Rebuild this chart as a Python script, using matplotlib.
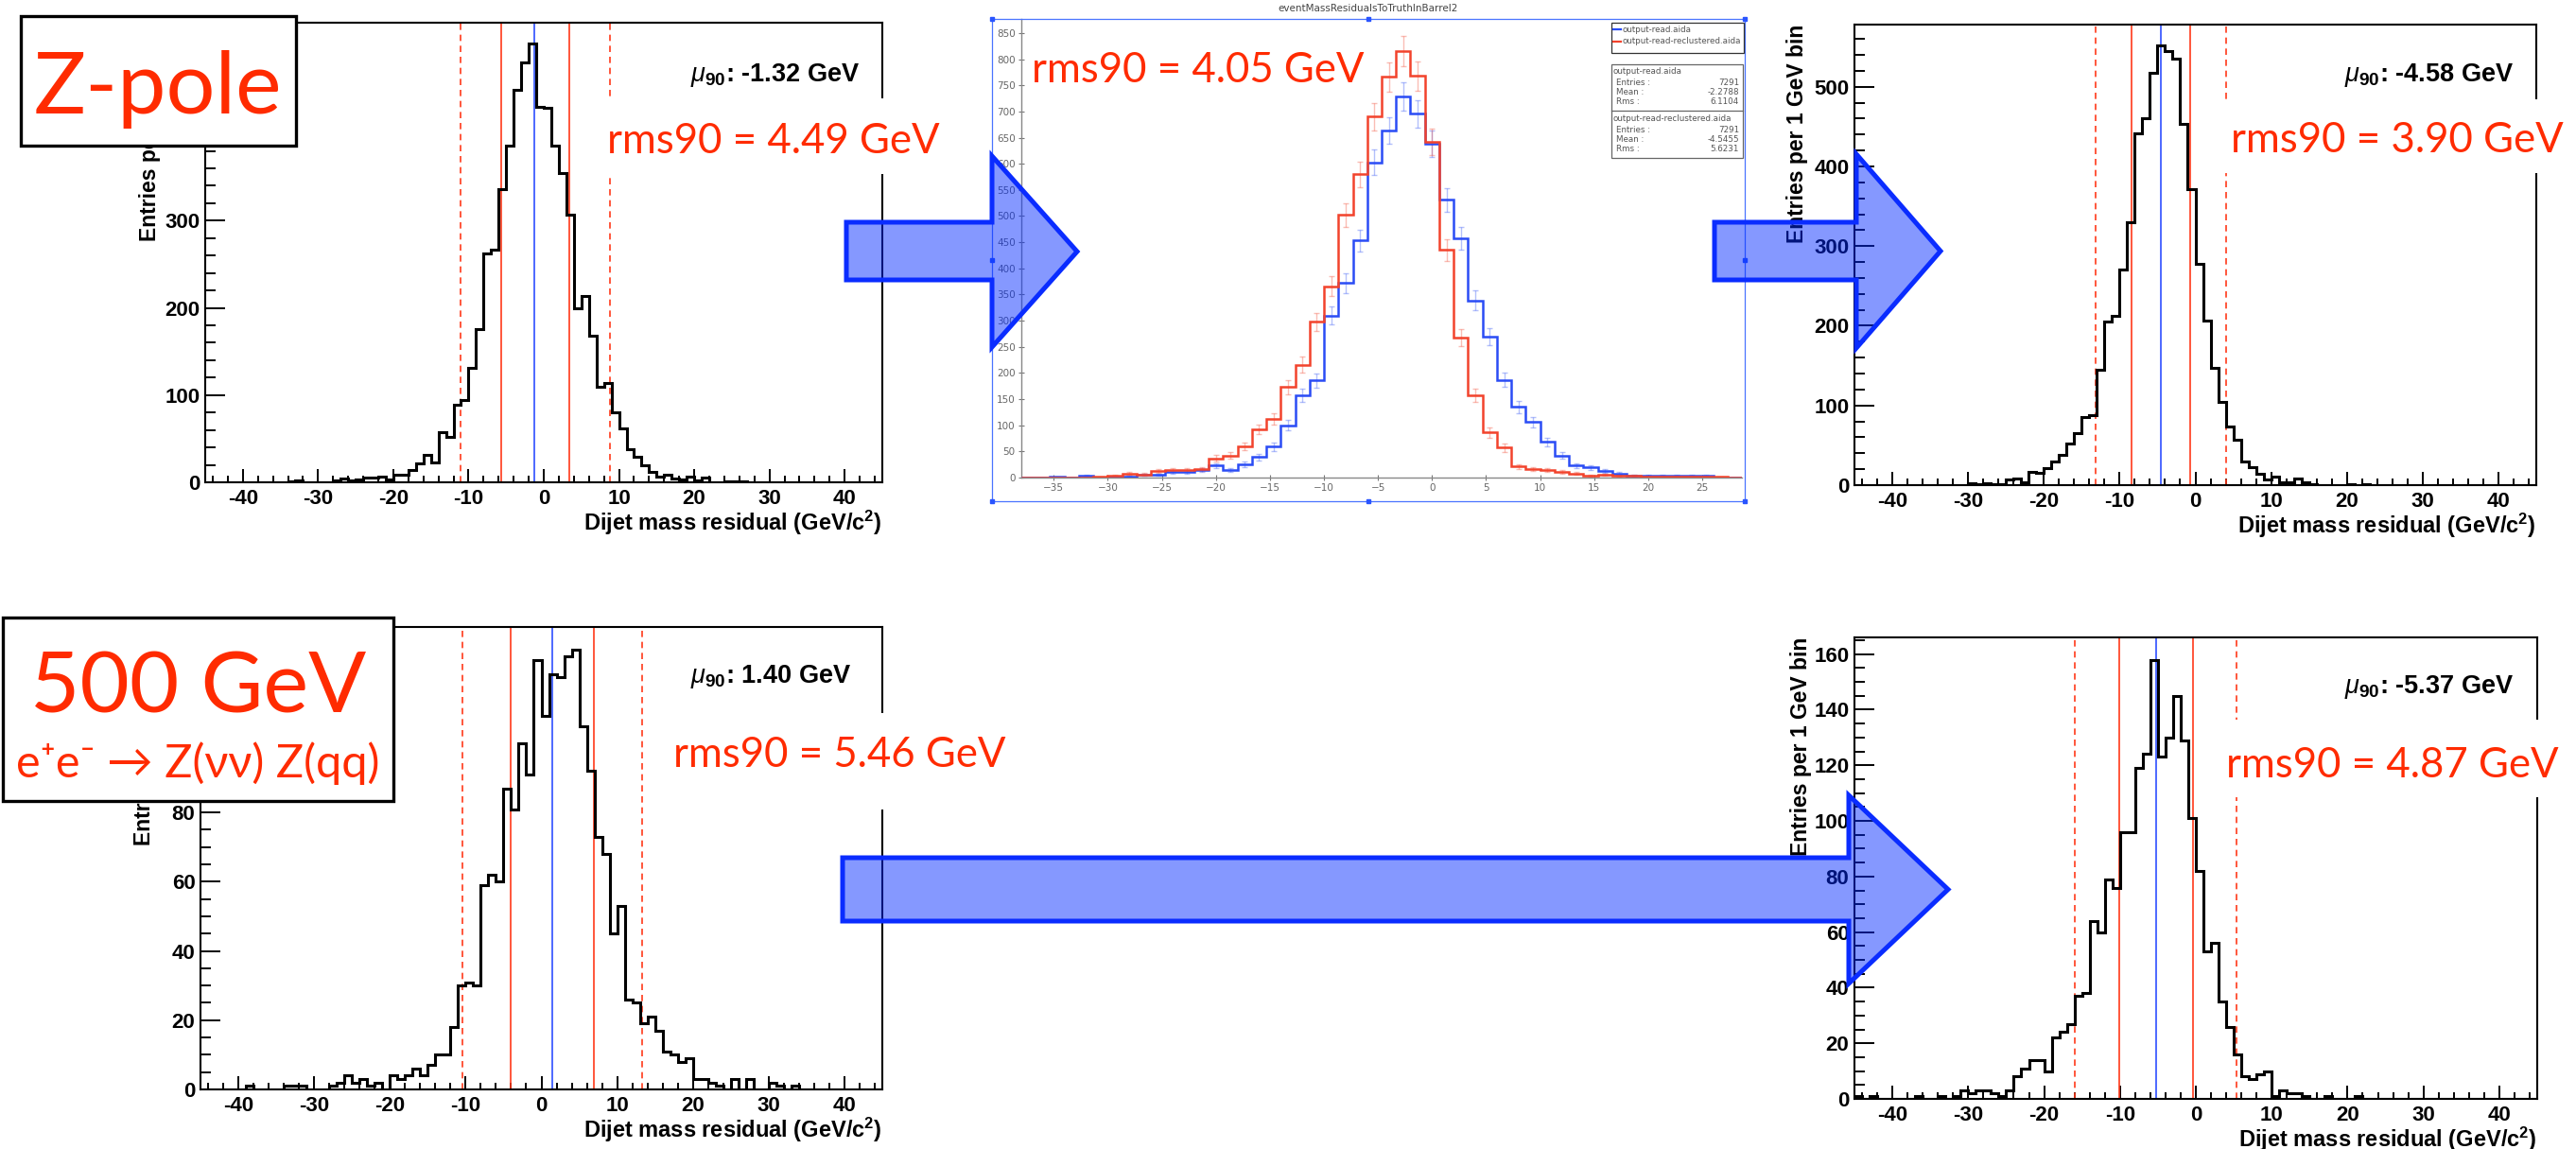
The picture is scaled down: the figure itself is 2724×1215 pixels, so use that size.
import numpy as np
import matplotlib
matplotlib.use("Agg")
import matplotlib.pyplot as plt
from matplotlib.patches import Rectangle, Polygon

plt.rcParams["mathtext.fontset"] = "custom"
plt.rcParams["mathtext.rm"] = "Liberation Sans"
plt.rcParams["mathtext.bf"] = "Liberation Sans:bold"
plt.rcParams["mathtext.it"] = "Liberation Sans:italic"

# ---- data ----
# ROOT histograms: 1 GeV bins from -45 to 45
zpole_counts = [
    0, 0, 0, 0, 0, 0, 0, 0, 0, 0,
    0, 1, 2, 0, 0, 0, 0, 2, 4, 2,
    3, 5, 5, 6, 3, 9, 9, 14, 22, 31,
    23, 58, 52, 89, 94, 131, 176, 262, 267, 336,
    386, 450, 481, 503, 430, 429, 386, 355, 307, 199,
    214, 168, 109, 114, 80, 62, 38, 29, 19, 12,
    6, 9, 4, 3, 7, 2, 5, 0, 0, 1,
    1, 1, 0, 0, 0, 0, 0, 0, 0, 0,
    0, 0, 0, 0, 0, 0, 0, 0, 0, 0,
]
zpole_reclustered_counts = [
    0, 0, 0, 0, 0, 0, 0, 0, 0, 0,
    0, 0, 0, 0, 0, 2, 1, 2, 1, 1,
    7, 8, 4, 17, 15, 21, 30, 38, 52, 65,
    86, 88, 145, 205, 212, 271, 330, 442, 460, 518,
    552, 545, 535, 453, 372, 278, 206, 147, 104, 73,
    57, 30, 22, 14, 7, 11, 3, 3, 8, 4,
    1, 0, 0, 0, 0, 1, 0, 1, 0, 0,
    0, 0, 0, 0, 0, 0, 0, 0, 0, 0,
    0, 0, 0, 0, 0, 0, 0, 0, 0, 0,
]
zz500_counts = [
    0, 0, 0, 0, 0, 0, 1, 0, 0, 0,
    0, 1, 1, 1, 0, 0, 0, 1, 2, 4,
    2, 3, 1, 2, 0, 4, 3, 4, 6, 4,
    7, 10, 10, 18, 30, 31, 30, 59, 62, 60,
    87, 81, 100, 91, 124, 108, 120, 119, 125, 127,
    105, 92, 73, 68, 45, 53, 26, 25, 19, 21,
    17, 11, 10, 8, 9, 3, 3, 2, 1, 0,
    3, 0, 3, 0, 0, 2, 1, 0, 1, 0,
    0, 0, 0, 0, 0, 0, 0, 0, 0, 0,
]
zz500_reclustered_counts = [
    1, 0, 1, 0, 0, 0, 0, 0, 1, 0,
    0, 1, 0, 1, 3, 2, 3, 3, 2, 1,
    3, 8, 11, 14, 14, 10, 22, 24, 27, 37,
    38, 64, 60, 79, 76, 96, 96, 119, 124, 158,
    123, 130, 145, 129, 101, 82, 53, 56, 35, 26,
    16, 8, 7, 9, 10, 1, 3, 2, 2, 1,
    0, 0, 1, 0, 0, 0, 1, 0, 0, 0,
    0, 0, 0, 0, 0, 0, 0, 0, 0, 0,
    0, 0, 0, 0, 0, 0, 0, 0, 0, 0,
]
root_edges = np.arange(-45, 46)

# vertical marker lines (GeV): mean90 (blue), +-rms90 (solid red), 90% range (dashed red)
zpole_lines = {"mu": -1.2, "solid": [-5.6, 3.35], "dashed": [-11.1, 8.8]}
zpole_rc_lines = {"mu": -4.6, "solid": [-8.4, -0.7], "dashed": [-13.2, 4.05]}
zz500_lines = {"mu": 1.44, "solid": [-4.0, 6.9], "dashed": [-10.4, 13.3]}
zz500_rc_lines = {"mu": -5.24, "solid": [-10.1, -0.34], "dashed": [-16.0, 5.4]}

mu90_labels = ["-1.32", "-4.58", "1.40", "-5.37"]
rms90_labels = ["4.49", "4.05", "3.90", "5.46", "4.87"]

# JAS comparison plot: 50 bins from -38
jas_lo, jas_width = -38.0, 4.0 / 3.0
jas_read = [
    0, 0, 1, 0, 3, 0, 1, 2, 5, 5,
    10, 11, 14, 23, 14, 25, 39, 59, 100, 157,
    186, 310, 372, 453, 603, 664, 729, 696, 639, 531,
    457, 339, 270, 187, 135, 106, 68, 42, 23, 19,
    12, 8, 3, 3, 3, 3, 3, 4, 0, 0,
]
jas_reclustered = [
    0, 0, 0, 0, 0, 1, 3, 8, 6, 12,
    14, 14, 16, 37, 42, 60, 92, 112, 173, 216,
    298, 366, 502, 580, 690, 766, 815, 768, 642, 435,
    268, 157, 86, 57, 21, 16, 14, 11, 8, 3,
    5, 3, 3, 2, 2, 2, 2, 1, 1, 0,
]
jas_names = ["output-read.aida", "output-read-reclustered.aida"]
stat_rows = ["Entries :", "Mean :", "Rms :"]
stat_read = ["7291", "-2.2788", "6.1104"]
stat_reclustered = ["7291", "-4.5455", "5.6231"]

W, H = 2724, 1215
RED_TXT = "#ff2b00"
RED_LINE = "#ff3a1a"
BLUE_LINE = "#2f4fff"
JAS_BLUE = "#2a4cf5"
JAS_RED = "#f2432c"
ROOT_FONT = "Liberation Sans"
SLIDE_FONT = ["Lato", "DejaVu Sans"]


def rect(l, t, r, b):
    return [l / W, 1 - b / H, (r - l) / W, (b - t) / H]


fig = plt.figure(figsize=(W / 100, H / 100), dpi=100)
fig.patch.set_facecolor("white")

over = fig.add_axes([0, 0, 1, 1], zorder=10)
over.set_xlim(0, W)
over.set_ylim(H, 0)
over.axis("off")


def root_panel(box, counts, lines, ytop, ystep, yminor, ylab_x, mu_label, mu_xy):
    l, t, r, b = box
    ax = fig.add_axes(rect(l, t, r, b))
    ax.stairs(counts, root_edges, color="black", lw=2.2, zorder=3)
    for x in lines["dashed"]:
        ax.axvline(x, color=RED_LINE, lw=1.2, ls=(0, (4, 3)), zorder=2)
    for x in lines["solid"]:
        ax.axvline(x, color=RED_LINE, lw=1.2, zorder=2)
    ax.axvline(lines["mu"], color=BLUE_LINE, lw=1.2, zorder=2)
    ax.set_xlim(-45, 45)
    ax.set_ylim(0, ytop)
    xt = np.arange(-40, 41, 10)
    ax.set_xticks(xt, labels=[str(v) for v in xt], fontsize=16,
                  fontweight="bold", family=ROOT_FONT)
    ax.set_xticks(np.arange(-44, 45, 2), minor=True)
    yt = np.arange(0, ytop, ystep)
    ax.set_yticks(yt, labels=[str(int(v)) for v in yt], fontsize=16,
                  fontweight="bold", family=ROOT_FONT)
    ax.set_yticks(np.arange(0, ytop, yminor), minor=True)
    ax.tick_params(which="both", direction="in", width=1.4, top=False, right=False)
    ax.tick_params(axis="x", which="major", length=10, pad=5)
    ax.tick_params(axis="x", which="minor", length=5)
    ax.tick_params(axis="y", which="major", length=15, pad=4)
    ax.tick_params(axis="y", which="minor", length=8)
    for s in ax.spines.values():
        s.set_linewidth(1.5)

    over.text(ylab_x, t, "Entries per 1 GeV bin", rotation=90, ha="center", va="top",
              fontsize=16.5, fontweight="bold", family=ROOT_FONT, zorder=1)
    over.text(r, b + 51, r"Dijet mass residual (GeV/c$^{\mathbf{2}}$)", ha="right",
              va="baseline", fontsize=17, fontweight="bold", family=ROOT_FONT, zorder=1)
    over.text(mu_xy[0], mu_xy[1], r"$\mu_{\mathbf{90}}$: " + mu_label + " GeV", ha="right",
              va="baseline", fontsize=19.5, fontweight="bold", family=ROOT_FONT, zorder=1)
    return ax


root_panel((217, 24, 933, 510), zpole_counts, zpole_lines, 527, 100, 20, 158,
           mu90_labels[0], (909, 86))
root_panel((1961, 26, 2682, 513), zpole_reclustered_counts, zpole_rc_lines, 578, 100, 20, 1901,
           mu90_labels[1], (2658, 86))
root_panel((212, 663, 933, 1152), zz500_counts, zz500_lines, 133.6, 20, 5, 153,
           mu90_labels[2], (900, 722))
root_panel((1961, 674, 2683, 1162), zz500_reclustered_counts, zz500_rc_lines, 166, 20, 5, 1904,
           mu90_labels[3], (2658, 733))

# ---- JAS comparison plot ----
ax2 = fig.add_axes(rect(1080, 20, 1842, 505))
jas_edges = jas_lo + jas_width * np.arange(len(jas_read) + 1)
centers = 0.5 * (jas_edges[:-1] + jas_edges[1:])
for vals, col in [(jas_read, JAS_BLUE), (jas_reclustered, JAS_RED)]:
    vals = np.array(vals, dtype=float)
    ax2.stairs(vals, jas_edges, color=col, lw=1.8, zorder=3)
    ax2.errorbar(centers, vals, yerr=np.sqrt(vals), fmt="none", ecolor=col,
                 alpha=0.35, capsize=2.2, elinewidth=1, capthick=1, zorder=2)
ax2.set_xlim(jas_edges[0], jas_edges[-1])
ax2.set_ylim(0, 877)
ax2.set_yticks(np.arange(0, 851, 50))
ax2.set_xticks(np.arange(-35, 26, 5))
ax2.tick_params(direction="inout", length=5, width=0.8, color="#777",
                labelcolor="#666", labelsize=7.5, pad=2)
for side in ["top", "right"]:
    ax2.spines[side].set_visible(False)
for side in ["left", "bottom"]:
    ax2.spines[side].set_color("#888")
    ax2.spines[side].set_linewidth(1.0)

over.text(1447, 9, "eventMassResidualsToTruthInBarrel2", ha="center", va="center",
          fontsize=7.5, color="#444", zorder=2)
over.add_patch(Rectangle((1049, 20), 796, 510, fill=False, edgecolor="#4a74ff", lw=0.9, zorder=2))
for hx in [1049, 1447, 1845]:
    for hy in [20, 275, 530]:
        if hx == 1447 and hy == 275:
            continue
        over.add_patch(Rectangle((hx - 2, hy - 2), 4, 4, color="#2a55ff", zorder=2))

# legend box
over.add_patch(Rectangle((1704, 24), 140, 32, facecolor="white", edgecolor="#333", lw=0.9, zorder=3))
for i, (name, col) in enumerate(zip(jas_names, [JAS_BLUE, JAS_RED])):
    y = 31 + 13 * i
    over.plot([1706, 1714], [y, y], color=col, lw=1.6, zorder=4)
    over.text(1716, y, name, ha="left", va="center", fontsize=6.3, color="#555", zorder=4)

# stats box
over.add_patch(Rectangle((1704, 68), 139, 99, facecolor="white", edgecolor="#666", lw=0.9, zorder=3))
over.plot([1704, 1843], [117, 117], color="#666", lw=0.9, zorder=4)
for name, vals, y0 in [(jas_names[0], stat_read, 76), (jas_names[1], stat_reclustered, 126)]:
    over.text(1705, y0, name, ha="left", va="center", fontsize=6.3, color="#555", zorder=4)
    for j, (row, v) in enumerate(zip(stat_rows, vals)):
        yy = y0 + 11 + 10.5 * j
        over.text(1709, yy, row, ha="left", va="center", fontsize=6.3, color="#555", zorder=4)
        over.text(1839, yy, v, ha="right", va="center", fontsize=6.3, color="#555", zorder=4)

# ---- rms90 annotations ----
rms_spots = [(642, 162, (636, 104, 1010, 184)),
             (1091, 87, None),
             (2359, 161, (2352, 105, 2722, 183)),
             (712, 811, (702, 754, 1056, 856)),
             (2354, 822, (2348, 761, 2718, 843))]
for label, (x, y, wbox) in zip(rms90_labels, rms_spots):
    if wbox is not None:
        over.add_patch(Rectangle((wbox[0], wbox[1]), wbox[2] - wbox[0], wbox[3] - wbox[1],
                                 facecolor="white", edgecolor="none", zorder=4))
    over.text(x, y, "rms90 = " + label + " GeV", ha="left", va="baseline", fontsize=31.5,
              color=RED_TXT, family=SLIDE_FONT, zorder=5)

# ---- slide labels ----
over.add_patch(Rectangle((22, 17), 291, 137, facecolor="white", edgecolor="black", lw=2.4, zorder=6))
over.text(167, 120, "Z-pole", ha="center", va="baseline", fontsize=66,
          color=RED_TXT, family=SLIDE_FONT, zorder=7)
over.add_patch(Rectangle((3, 653), 413, 194, facecolor="white", edgecolor="black", lw=2.4, zorder=6))
over.text(210, 753, "500 GeV", ha="center", va="baseline", fontsize=65,
          color=RED_TXT, family=SLIDE_FONT, zorder=7)
over.text(209, 822, "e\u207ae\u207b \u2192 Z(\u03bd\u03bd) Z(qq)", ha="center", va="baseline",
          fontsize=35, color=RED_TXT, family=SLIDE_FONT, zorder=7)

# ---- arrows ----
arrows = [
    (895, 1049, 235, 296, 165, 367, 1139),
    (1813, 1963, 235, 296, 163, 368, 2052),
    (891, 1955, 907, 974, 841, 1040, 2060),
]
for x0, xb, s0, s1, h0, h1, tip in arrows:
    yc = 0.5 * (h0 + h1)
    pts = [(x0, s0), (xb, s0), (xb, h0), (tip, yc), (xb, h1), (xb, s1), (x0, s1)]
    over.add_patch(Polygon(pts, closed=True, facecolor=(0.0, 0.16, 1.0, 0.48),
                           edgecolor="#0a2cff", lw=3.6, joinstyle="miter", zorder=8))

fig.savefig("out.png", dpi=100, facecolor="white")
